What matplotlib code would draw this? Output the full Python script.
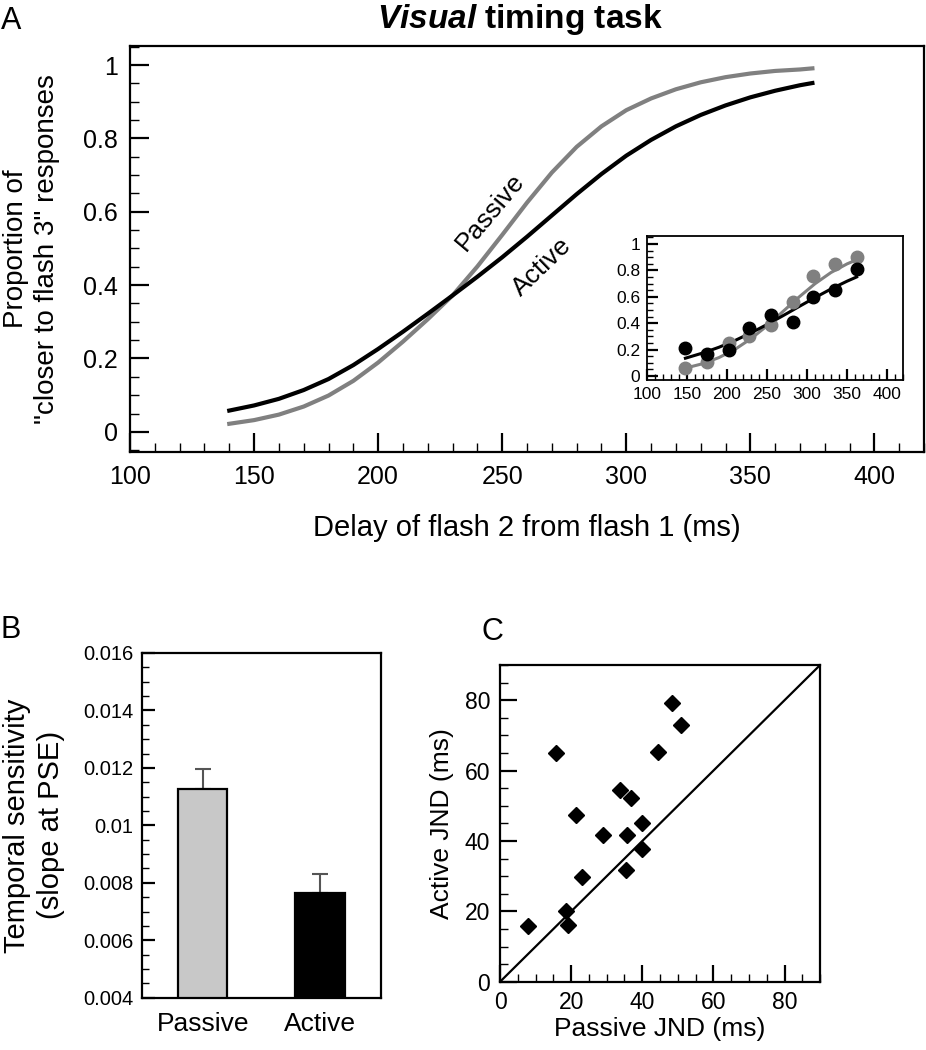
import matplotlib
matplotlib.use("Agg")
import matplotlib.pyplot as plt
from matplotlib.ticker import MultipleLocator

plt.rcParams['font.family'] = ['Liberation Sans', 'DejaVu Sans']
plt.rcParams['mathtext.fontset'] = 'custom'
plt.rcParams['mathtext.it'] = 'Liberation Sans:italic:bold'
plt.rcParams['mathtext.rm'] = 'Liberation Sans:bold'

GRAY = '#808080'

# panel A: fitted psychometric curves
delay = [140, 150, 160, 170, 180, 190, 200, 210, 220, 230, 240, 250, 260,
         270, 280, 290, 300, 310, 320, 330, 340, 350, 360, 370, 375]
passive_fit = [0.022, 0.032, 0.047, 0.069, 0.099, 0.139, 0.189, 0.246, 0.307,
               0.372, 0.451, 0.537, 0.625, 0.707, 0.777, 0.833, 0.877, 0.909,
               0.934, 0.953, 0.967, 0.977, 0.984, 0.988, 0.991]
active_fit = [0.058, 0.072, 0.090, 0.114, 0.144, 0.182, 0.226, 0.273, 0.322,
              0.372, 0.423, 0.476, 0.532, 0.590, 0.648, 0.703, 0.753, 0.796,
              0.833, 0.864, 0.890, 0.912, 0.930, 0.945, 0.951]

# inset: one subject's data and fits
inset_x = [148, 175, 202, 228, 255, 282, 308, 335, 362]
inset_passive = [0.06, 0.11, 0.25, 0.30, 0.39, 0.56, 0.76, 0.85, 0.90]
inset_active = [0.21, 0.17, 0.20, 0.36, 0.46, 0.41, 0.60, 0.65, 0.81]
inset_fit_x = [148, 170, 190, 210, 230, 250, 270, 290, 310, 330, 350, 362]
inset_fit_passive = [0.060, 0.094, 0.140, 0.202, 0.283, 0.380, 0.489, 0.598,
                     0.699, 0.784, 0.849, 0.880]
inset_fit_active = [0.135, 0.175, 0.218, 0.269, 0.327, 0.390, 0.457, 0.526,
                    0.594, 0.659, 0.718, 0.750]

# panel B
conditions = ['Passive', 'Active']
sensitivity = [0.01126, 0.00764]
sensitivity_err = [0.00070, 0.00067]
bar_colors = ['#c8c8c8', '#000000']

# panel C: JNDs per subject
passive_jnd = [7.8, 15.8, 18.6, 19.2, 21.4, 23.0, 28.9, 33.6, 35.7, 35.4,
               36.8, 40.0, 39.8, 44.4, 48.5, 50.9]
active_jnd = [15.9, 64.9, 20.2, 16.1, 47.3, 29.8, 41.8, 54.6, 41.6, 31.7,
              52.3, 45.0, 37.8, 65.3, 79.2, 73.0]


def style_axes(ax, major_len, minor_len, size, pad):
    for s in ax.spines.values():
        s.set_linewidth(1.6)
    ax.tick_params(which='both', direction='in', top=False, right=False,
                   labelsize=size, pad=pad)
    ax.tick_params(which='major', length=major_len, width=1.6)
    ax.tick_params(which='minor', length=minor_len, width=1.0)


fig = plt.figure(figsize=(9.26, 10.5), dpi=100)

# ---- A ----
axA = fig.add_axes([0.1404, 0.5695, 0.8575, 0.3867])
axA.plot(delay, passive_fit, color=GRAY, lw=3, solid_joinstyle='round')
axA.plot(delay, active_fit, color='black', lw=3, solid_joinstyle='round')
axA.set_xlim(100, 420)
axA.set_ylim(-0.055, 1.052)
axA.xaxis.set_major_locator(MultipleLocator(50))
axA.xaxis.set_minor_locator(MultipleLocator(10))
axA.yaxis.set_major_locator(MultipleLocator(0.2))
axA.yaxis.set_minor_locator(MultipleLocator(0.05))
axA.set_xticks([100, 150, 200, 250, 300, 350, 400])
axA.set_yticks([0, 0.2, 0.4, 0.6, 0.8, 1])
axA.set_yticklabels(['0', '0.2', '0.4', '0.6', '0.8', '1'])
style_axes(axA, 13.5, 6.5, 18, 9)
axA.set_xlabel('Delay of flash 2 from flash 1 (ms)', fontsize=21, labelpad=18)
axA.set_ylabel('Proportion of\n"closer to flash 3" responses', fontsize=20,
               labelpad=16, linespacing=1.25)
axA.text(245, 0.60, 'Passive', rotation=50, fontsize=19, ha='center', va='center')
axA.text(266, 0.45, 'Active', rotation=44, fontsize=19, ha='center', va='center')

# inset
axI = fig.add_axes([0.6987, 0.6381, 0.2765, 0.1371])
axI.plot(inset_fit_x, inset_fit_passive, color=GRAY, lw=2.2)
axI.plot(inset_fit_x, inset_fit_active, color='black', lw=2.2)
axI.plot(inset_x, inset_passive, 'o', color=GRAY, ms=9)
axI.plot(inset_x, inset_active, 'o', color='black', ms=9)
axI.set_xlim(100, 420)
axI.set_ylim(-0.03, 1.06)
axI.xaxis.set_major_locator(MultipleLocator(50))
axI.xaxis.set_minor_locator(MultipleLocator(10))
axI.yaxis.set_major_locator(MultipleLocator(0.2))
axI.yaxis.set_minor_locator(MultipleLocator(0.05))
axI.set_xticks([100, 150, 200, 250, 300, 350, 400])
axI.set_yticks([0, 0.2, 0.4, 0.6, 0.8, 1])
axI.set_yticklabels(['0', '0.2', '0.4', '0.6', '0.8', '1'])
style_axes(axI, 8, 4, 12.5, 5)
for s in axI.spines.values():
    s.set_linewidth(1.3)

# ---- B ----
axB = fig.add_axes([0.153, 0.0498, 0.2584, 0.3283])
axB.bar([0, 1], sensitivity, width=0.42, color=bar_colors, edgecolor='black',
        linewidth=1.6, zorder=2)
axB.errorbar([0, 1], sensitivity, yerr=[[0, 0], sensitivity_err], fmt='none',
             ecolor='#555555', elinewidth=1.5, capsize=6, capthick=1.5, zorder=1)
axB.set_xlim(-0.52, 1.52)
axB.set_ylim(0.004, 0.016)
axB.yaxis.set_major_locator(MultipleLocator(0.002))
axB.yaxis.set_minor_locator(MultipleLocator(0.0005))
axB.set_yticks([0.004, 0.006, 0.008, 0.01, 0.012, 0.014, 0.016])
axB.set_yticklabels(['0.004', '0.006', '0.008', '0.01', '0.012', '0.014', '0.016'])
axB.set_xticks([0, 1])
axB.set_xticklabels(conditions)
style_axes(axB, 9.5, 5, 14.5, 6)
axB.tick_params(axis='x', length=0, labelsize=19, pad=10)
axB.set_ylabel('Temporal sensitivity\n(slope at PSE)', fontsize=21,
               labelpad=13, linespacing=1.28)

# ---- C ----
axC = fig.add_axes([0.54, 0.065, 0.3456, 0.3016])
axC.plot([0, 90], [0, 90], color='black', lw=1.6)
axC.plot(passive_jnd, active_jnd, 'D', color='black', ms=8)
axC.set_xlim(0, 90)
axC.set_ylim(0, 90)
axC.xaxis.set_major_locator(MultipleLocator(20))
axC.xaxis.set_minor_locator(MultipleLocator(5))
axC.yaxis.set_major_locator(MultipleLocator(20))
axC.yaxis.set_minor_locator(MultipleLocator(5))
style_axes(axC, 12, 6, 16.5, 7)
axC.set_xlabel('Passive JND (ms)', fontsize=19, labelpad=2)
axC.set_ylabel('Active JND (ms)', fontsize=19, labelpad=8)

# title and panel letters
fig.text(0.562, 0.998, r'$\mathit{Visual}$ timing task', fontsize=24,
         fontweight='bold', ha='center', va='top')
fig.text(0.001, 0.994, 'A', fontsize=22, ha='left', va='top')
fig.text(0.001, 0.414, 'B', fontsize=22, ha='left', va='top')
fig.text(0.52, 0.412, 'C', fontsize=22, ha='left', va='top')

fig.savefig('out.png', dpi=100)
plt.close(fig)
